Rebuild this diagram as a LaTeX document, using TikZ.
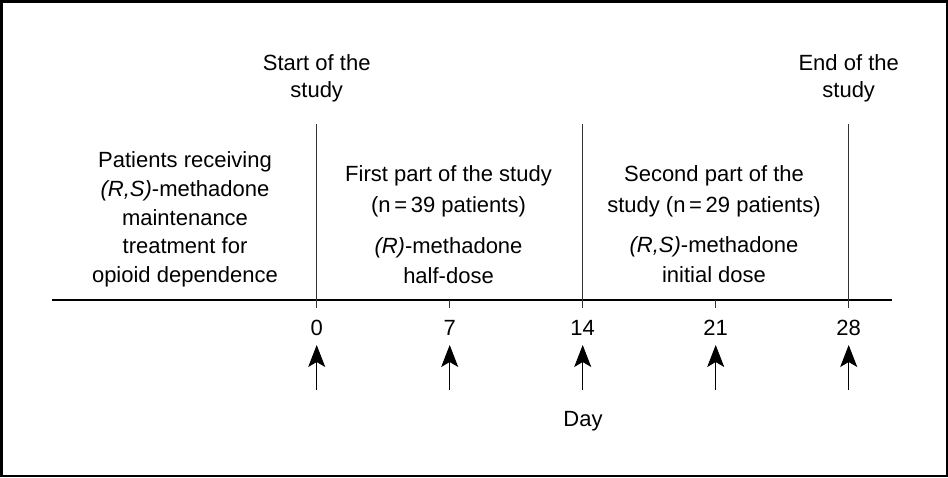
\documentclass[tikz,border=0pt]{standalone}
\usepackage{fontspec}
\setmainfont{Liberation Sans}
\usetikzlibrary{arrows.meta}
\begin{document}
\begin{tikzpicture}[x=1pt,y=-1pt,
  txt/.style={anchor=base, inner sep=0pt, font=\fontsize{22}{26}\selectfont},
  axisline/.style={line width=1.3pt},
  vline/.style={line width=1pt, draw=black!80},
  uparrow/.style={line width=1pt, -{Stealth[length=22pt,width=17pt,inset=5pt]}}]
\useasboundingbox (0,0) rectangle (948,477);
\draw[line width=2.5pt] (1.25,1.25) rectangle (946.75,475.75);

% axis
\coordinate (axL) at (52,300);
\coordinate (axR) at (892,300);
\draw[axisline] (axL) -- (axR);

% vertical lines and ticks
\coordinate (v0t) at (316.7,124);  \coordinate (v0b) at (316.7,308);
\coordinate (v14t) at (582.7,124); \coordinate (v14b) at (582.7,308);
\coordinate (v28t) at (848.7,124); \coordinate (v28b) at (848.7,308);
\coordinate (v7t) at (449.7,300);  \coordinate (v7b) at (449.7,308);
\coordinate (v21t) at (715.7,300); \coordinate (v21b) at (715.7,308);
\draw[vline] (v0t) -- (v0b);
\draw[vline] (v14t) -- (v14b);
\draw[vline] (v28t) -- (v28b);
\draw[vline] (v7t) -- (v7b);
\draw[vline] (v21t) -- (v21b);

% top labels
\node[txt] (st1) at (316.7,70) {Start of the};
\node[txt] (st2) at (316.7,97) {study};
\node[txt] (en1) at (848.7,70) {End of the};
\node[txt] (en2) at (848.7,97) {study};

% left block
\node[txt] (l1) at (185,167) {Patients receiving};
\node[txt] (l2) at (185,196) {\textit{(R,S)}-methadone};
\node[txt] (l3) at (185,225) {maintenance};
\node[txt] (l4) at (185,253.5) {treatment for};
\node[txt] (l5) at (185,282) {opioid dependence};

% middle block
\node[txt] (m1) at (448.5,181) {First part of the study};
\node[txt] (m2) at (448.5,212) {(n\,=\,39 patients)};
\node[txt] (m3) at (448.5,253) {\textit{(R)}-methadone};
\node[txt] (m4) at (448.5,283) {half-dose};

% right block
\node[txt] (r1) at (714,181) {Second part of the};
\node[txt] (r2) at (714,212) {study (n\,=\,29 patients)};
\node[txt] (r3) at (714,252.5) {\textit{(R,S)}-methadone};
\node[txt] (r4) at (714,282.5) {initial dose};

% day numbers
\node[txt] (d0) at (316.7,335) {0};
\node[txt] (d7) at (449.7,335) {7};
\node[txt] (d14) at (582.7,335) {14};
\node[txt] (d21) at (715.7,335) {21};
\node[txt] (d28) at (848.7,335) {28};
\node[txt] (day) at (583,426.5) {Day};

% arrows
\foreach \n/\x in {0/316.7,7/449.7,14/582.7,21/715.7,28/848.7}{
  \coordinate (a\n b) at (\x,390);
  \coordinate (a\n t) at (\x,345);
  \draw[uparrow] (a\n b) -- (a\n t);
}
\end{tikzpicture}
\end{document}
